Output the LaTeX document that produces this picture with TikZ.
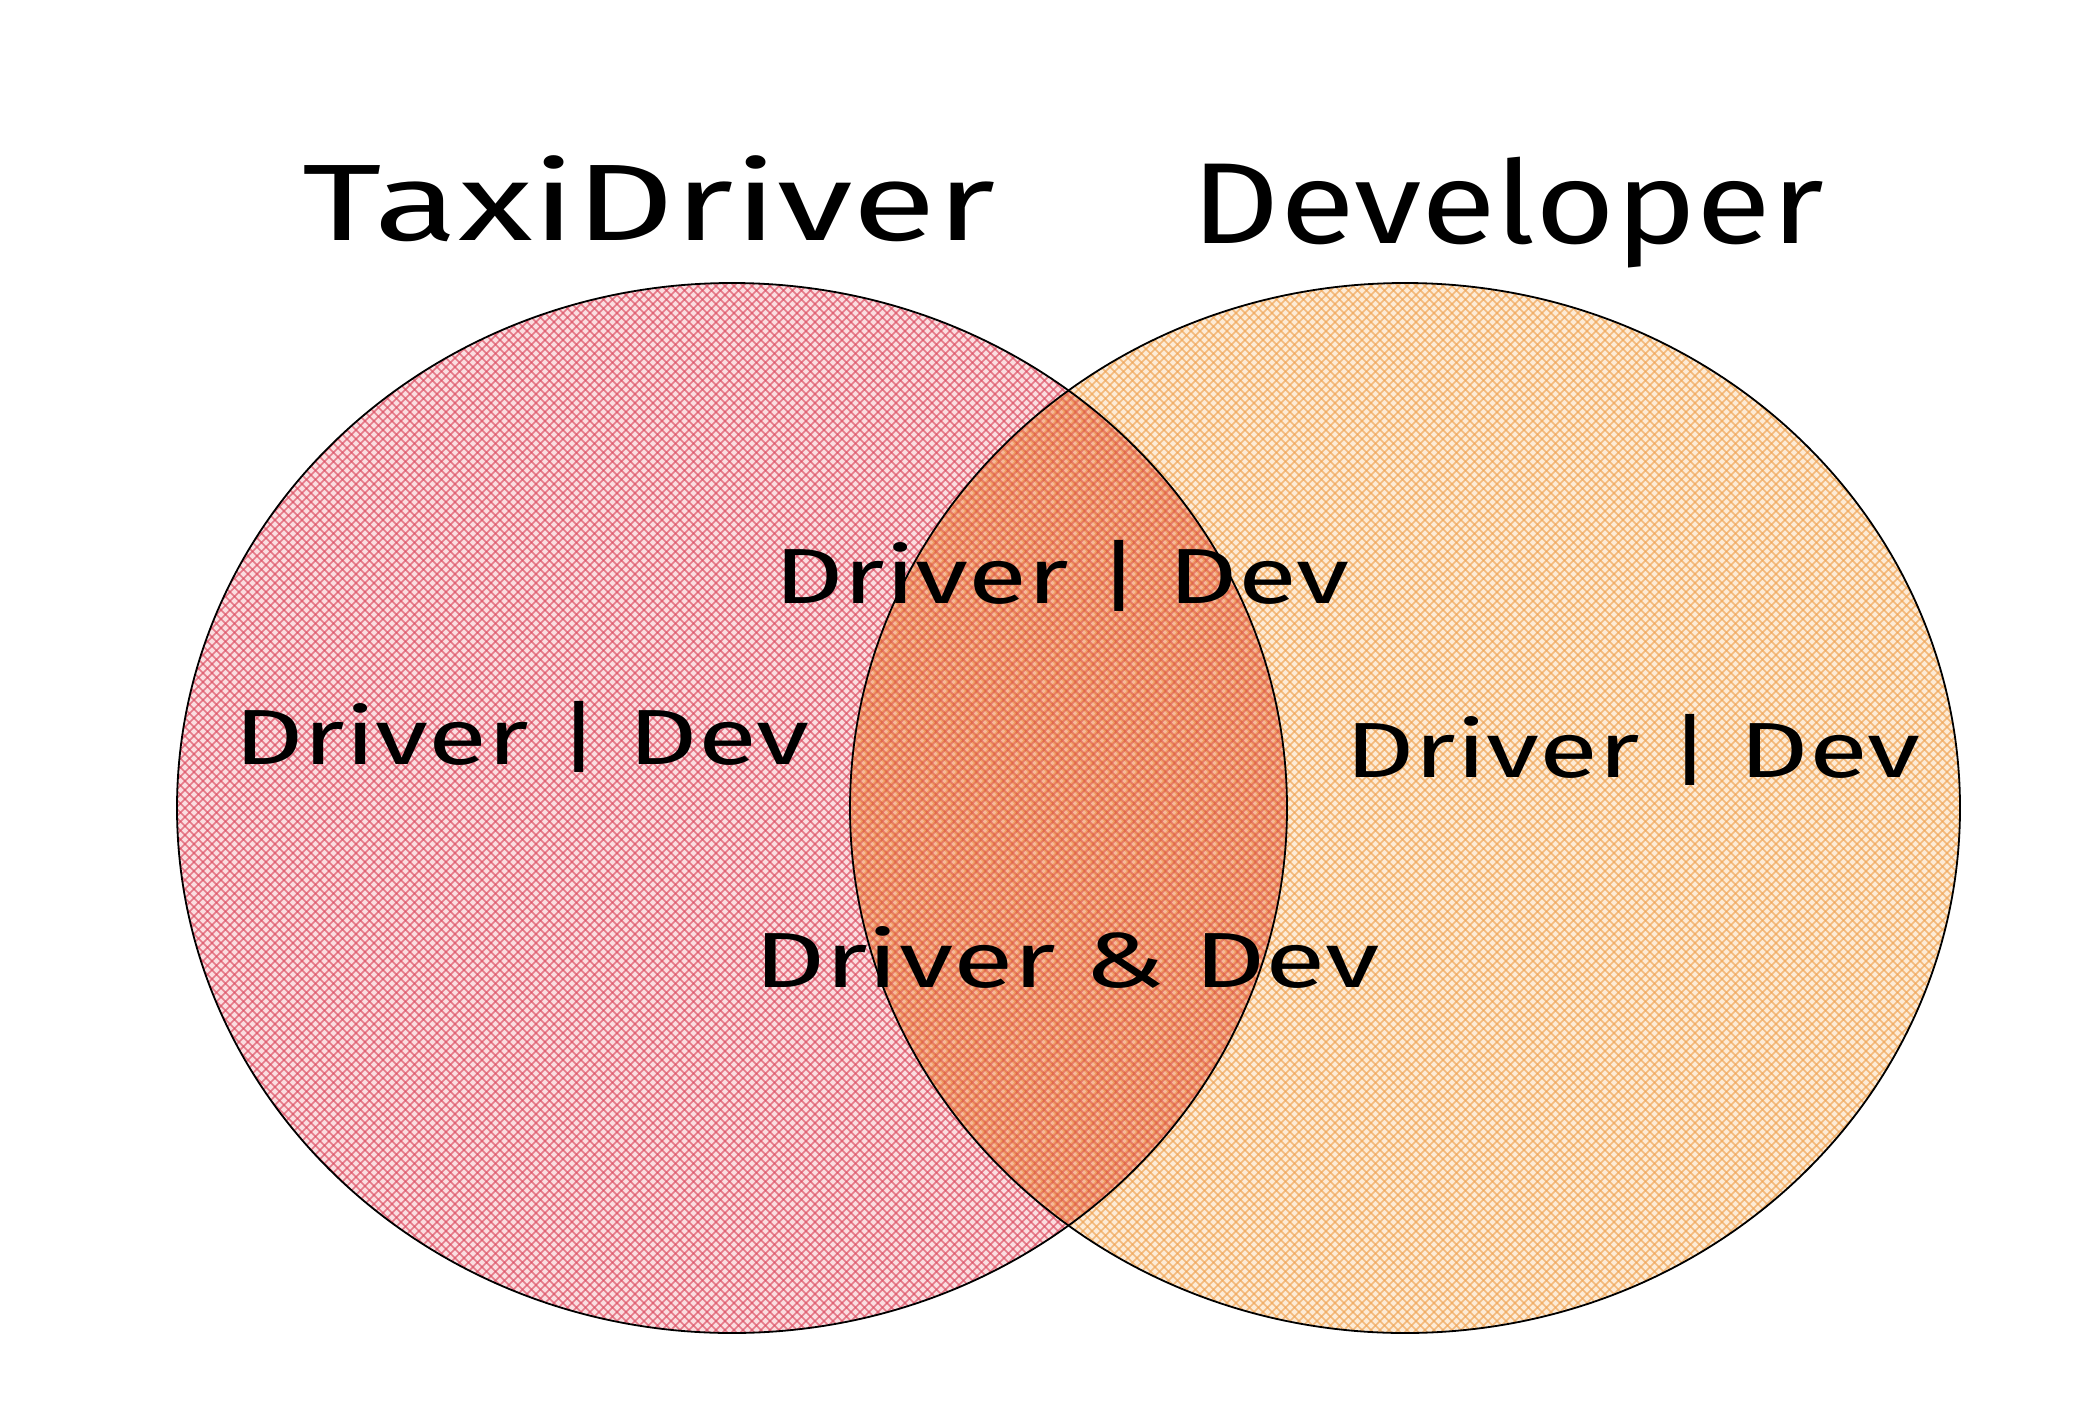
\documentclass[tikz,border=0pt]{standalone}
\usepackage{fontspec}
\setmainfont{Fira Sans}
\usepackage{graphicx}
\definecolor{redhatch}{HTML}{DC4F63}
\definecolor{redbase}{HTML}{FBDDE0}
\definecolor{orghatch}{HTML}{F0A455}
\definecolor{orgbase}{HTML}{FDEBD6}
\definecolor{orgtint}{HTML}{F39A5E}
\tikzset{
  title/.style={font=\fontsize{128}{130}\selectfont, anchor=base, inner sep=0pt},
  label/.style={font=\fontsize{92}{96}\selectfont, anchor=base, inner sep=0pt},
  rim/.style={draw=black, line width=1.8pt},
}
\newcommand{\hatchset}[4]{% centre x, centre y, colour, opacity
  \foreach \d in {-1150,-1141,...,1150}{
    \draw[#3, line width=1.5pt, opacity=#4] ({#1+\d-620},{#2-620}) -- ({#1+\d+620},{#2+620});
    \draw[#3, line width=1.5pt, opacity=#4] ({#1+\d+620},{#2-620}) -- ({#1+\d-620},{#2+620});
  }}
\begin{document}
\begin{tikzpicture}[x=1pt,y=-1pt]
\useasboundingbox (0,0) rectangle (2090,1416);
\fill[white] (0,0) rectangle (2090,1416);

% left set: taxi drivers
\begin{scope}
  \clip (732,808) ellipse [x radius=555, y radius=525];
  \fill[redbase] (100,200) rectangle (1400,1400);
  \hatchset{732}{808}{redhatch}{0.7}
\end{scope}

% right set: developers, multiplied over the left one
\begin{scope}[transparency group, blend mode=multiply]
  \clip (1405,808) ellipse [x radius=555, y radius=525];
  \fill[orgbase] (800,200) rectangle (2000,1400);
  \hatchset{1405}{808}{orghatch}{0.7}
\end{scope}

% warm tint on the shared part
\begin{scope}
  \clip (732,808) ellipse [x radius=555, y radius=525];
  \clip (1405,808) ellipse [x radius=555, y radius=525];
  \fill[orgtint, opacity=0.35] (800,200) rectangle (1400,1400);
\end{scope}

\draw[rim] (732,808) ellipse [x radius=555, y radius=525];
\draw[rim] (1405,808) ellipse [x radius=555, y radius=525];

\node[title] (taxi) at (649,240) {\scalebox{1.2}[0.85]{TaxiDriver}};
\node[title] (dev)  at (1508,243) {\scalebox{1.07}[0.9]{Developer}};

\node[label] (top)   at (1062,603) {\scalebox{1.17}[0.85]{Driver | Dev}};
\node[label] (left)  at (522,764)  {\scalebox{1.17}[0.85]{Driver | Dev}};
\node[label] (right) at (1633,777) {\scalebox{1.17}[0.85]{Driver | Dev}};
\node[label] (both)  at (1067,987) {\scalebox{1.2}[0.85]{Driver \& Dev}};
\end{tikzpicture}
\end{document}
